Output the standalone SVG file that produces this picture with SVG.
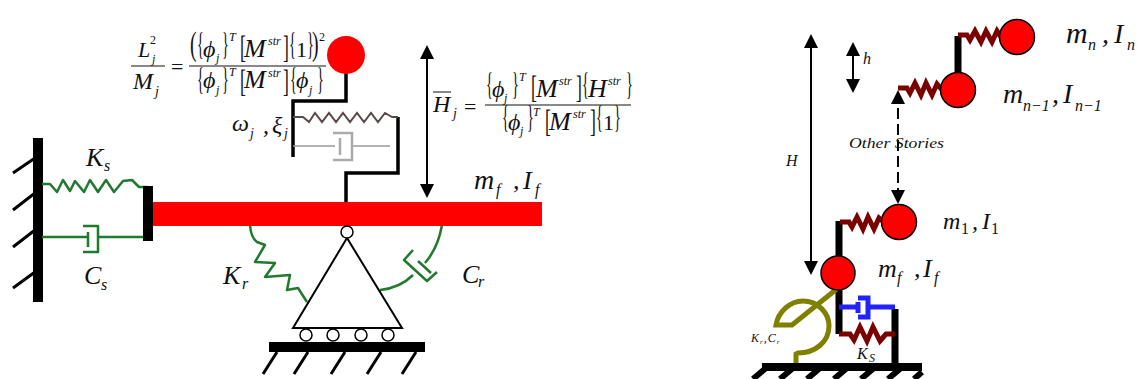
<svg xmlns="http://www.w3.org/2000/svg" width="1137" height="379" viewBox="0 0 1137 379">
<style>
text{font-family:"Liberation Serif","Times New Roman",serif;font-style:italic;fill:#111}
.n{font-style:normal}
.f22{font-size:22px}.f24{font-size:24px}.f26{font-size:26px}.f28{font-size:28px}.f12{font-size:12px}.f14{font-size:14px}.f16{font-size:16px}
.b{font-size:22px;font-style:normal;font-weight:normal}
.k{fill:none;stroke:#000;stroke-linejoin:miter}
.g{fill:none;stroke:#1f7a2e;stroke-width:2.5;stroke-linejoin:round}
.br{fill:none;stroke:#7b0000;stroke-width:5;stroke-linejoin:miter}
.ball{fill:#f00;stroke:#000;stroke-width:1.5}
.o{fill:#fff;stroke:#000;stroke-width:1.5}
</style>
<defs>
<marker id="ah" viewBox="0 0 14 14" refX="12" refY="7" markerWidth="14" markerHeight="14" markerUnits="userSpaceOnUse" orient="auto-start-reverse"><path d="M0 0L14 7L0 14Z" fill="#000"/></marker>
</defs>
<rect width="1137" height="379" fill="#fff"/>

<g id="connectors">
<path class="k" stroke-width="10" d="M38 138V302"/>
<path class="k" stroke-width="3" d="M13 173L35 158M13 210L35 193M13 247L35 230M13 288L35 272"/>
<path class="g" d="M42 184H50L57 192L63 180L70 191L75 181L84 192L90 180L98 192L106 180L114 192L123 181L132 180L139 187H147"/>
<path class="g" d="M42 237H88M98 237H147M83 226H98V252H83M88 232V247"/>
<path class="k" stroke-width="3.5" d="M346 72V101H293V157"/>
<path class="k" stroke-width="3.5" d="M398 117V173H346V202"/>
<path d="M293 117H303L309 122L315 113L322 122L329 113L336 122L343 113L350 122L357 113L364 122L371 113L378 122L385 113L392 117H398" fill="none" stroke="#5a4a4a" stroke-width="2"/>
<path d="M293 146H335M352 146H390" fill="none" stroke="#999" stroke-width="1.5"/>
<path d="M333 133H352V160H333M340 138V155" fill="none" stroke="#aaa" stroke-width="2.5"/>
<path class="g" stroke-width="3" d="M250 225Q251 238 257 242L265 245L255 262L275 263L265 277L290 275L287 290L298 288L307 302"/>
<path class="g" d="M442 225Q438 248 425 263M413 275Q400 288 380 290"/>
<path class="g" stroke-width="3" d="M413 250L404 260L427 281L437 272M418 261L431 273"/>
<path class="k" stroke-width="2" d="M347 238L293 328H402Z" fill="none"/>
<path class="k" stroke-width="3" d="M263 374L277 352M294 374L308 352M331 374L345 352M367 374L381 352M402 374L416 352"/>
<path class="k" stroke-width="2" d="M427 47V196" marker-start="url(#ah)" marker-end="url(#ah)"/>
<path class="k" stroke-width="2" d="M811 36V273" marker-start="url(#ah)" marker-end="url(#ah)"/>
<path class="k" stroke-width="2" d="M853 44V91" marker-start="url(#ah)" marker-end="url(#ah)"/>
<path class="k" stroke-width="2" stroke-dasharray="11 5" d="M898 92V202" marker-start="url(#ah)" marker-end="url(#ah)"/>
<path class="k" stroke-width="7" d="M958 36V74M839 221V260M839 290V334M895 309V364"/>
<path class="br" d="M958 35H967L970 40L975 31L981 42L986 31L992 42L997 31L1001 37"/>
<path class="br" d="M898 88H907L910 93L915 83L921 95L926 83L932 95L937 84L942 90"/>
<path class="br" d="M840 222H849L852 227L857 217L863 229L868 217L874 229L879 218L884 222"/>
<path class="br" d="M839 334H850L854 340L860 327L867 341L873 327L880 341L886 334H895"/>
<path fill="none" stroke="#2222ff" stroke-width="5" d="M839 307H858M868 307H895M858 302V313M858 298H868V317H858"/>
<path fill="none" stroke="#808000" stroke-width="5" d="M838 288L792 325H776C778 312 790 301 803 301C818 301 829 313 829 326C829 342 815 353 798 353L796 354V363"/>
<path class="k" stroke-width="8" d="M762 367H922"/>
<path class="k" stroke-width="6" d="M753 379L766 368M780 379L793 368M807 379L820 368M834 379L847 368M861 379L874 368M888 379L901 368M914 379L922 372"/>
</g>

<g id="beam"><rect x="152" y="202" width="390" height="24" fill="#f00"/><rect x="143" y="186" width="10" height="55" fill="#000"/></g>
<g id="top-mass"><circle cx="346" cy="55" r="19" fill="#f00"/></g>
<g id="pivot"><circle class="o" cx="347" cy="232" r="6"/></g>
<g id="base">
<circle class="o" cx="306" cy="335" r="6"/><circle class="o" cx="333" cy="335" r="6"/><circle class="o" cx="361" cy="335" r="6"/><circle class="o" cx="388" cy="335" r="6"/>
<rect x="269" y="342" width="156" height="10" fill="#000"/>
</g>
<g id="mass-n"><circle class="ball" cx="1017" cy="37" r="17.5"/></g>
<g id="mass-n1"><circle class="ball" cx="958" cy="90" r="17.5"/></g>
<g id="mass-1"><circle class="ball" cx="899" cy="222" r="17.5"/></g>
<g id="mass-f"><circle class="ball" cx="838" cy="273" r="17"/></g>

<g id="labels-left">
<text class="f26" x="86" y="166">K</text><text class="f16" x="104" y="171">s</text>
<text class="f26" x="84" y="284">C</text><text class="f16" x="101" y="290">s</text>
<text class="f26" x="223" y="284">K</text><text class="f16" x="242" y="289">r</text>
<text class="f26" x="462" y="283">C</text><text class="f16" x="478" y="287">r</text>
<text class="f28" x="474" y="189">m</text><text class="f16" x="496" y="195">f</text><text class="f26" x="513" y="189">,</text><text class="f26" x="523" y="189">I</text><text class="f16" x="535" y="195">f</text>
<text class="f24" x="232" y="131">ω</text><text class="f14" x="250" y="138">j</text><text class="f24" x="263" y="133">,</text><text class="f24" x="272" y="133">ξ</text><text class="f14" x="284" y="138">j</text>
<text class="f22" x="138" y="57">L</text><text class="f12 n" x="150" y="44">2</text><text class="f12" x="152" y="63">j</text>
<text class="f24" x="133" y="89">M</text><text class="f14" x="155" y="96">j</text>
<path d="M131 66H165M189 66H326M485 105H631M433 92H451" stroke="#111" stroke-width="1" fill="none"/>
<text class="f22 n" x="171" y="74">=</text>
<text class="b" transform="translate(190 55) scale(.9 1.5)">(</text><text class="b" transform="translate(197 55) scale(.65 1.4)">{</text><text class="f24" x="203" y="57">ϕ</text><text class="f12" x="216" y="62">j</text><text class="b" transform="translate(222 55) scale(.65 1.4)">}</text><text class="f12" x="229" y="41">T</text>
<text class="b" transform="translate(240 58) scale(.8 1.4)">[</text><text class="f26" x="244" y="57">M</text><text class="f12" x="268" y="45">str</text><text class="b" transform="translate(283 58) scale(.8 1.4)">]</text>
<text class="b" transform="translate(289 55) scale(.65 1.4)">{</text><text class="f22 n" x="296" y="57">1</text><text class="b" transform="translate(307 55) scale(.65 1.4)">}</text><text class="b" transform="translate(312 55) scale(.9 1.5)">)</text><text class="f12 n" x="319" y="41">2</text>
<text class="b" transform="translate(197 90) scale(.65 1.4)">{</text><text class="f24" x="203" y="88">ϕ</text><text class="f12" x="216" y="94">j</text><text class="b" transform="translate(222 90) scale(.65 1.4)">}</text><text class="f12" x="229" y="76">T</text>
<text class="b" transform="translate(240 92) scale(.8 1.4)">[</text><text class="f26" x="244" y="88">M</text><text class="f12" x="268" y="77">str</text><text class="b" transform="translate(283 92) scale(.8 1.4)">]</text>
<text class="b" transform="translate(290 90) scale(.65 1.4)">{</text><text class="f24" x="296" y="88">ϕ</text><text class="f12" x="309" y="94">j</text><text class="b" transform="translate(317 90) scale(.65 1.4)">}</text>
<text class="f24" x="433" y="112">H</text><text class="f14" x="453" y="118">j</text><text class="f22 n" x="464" y="114">=</text>
<text class="b" transform="translate(486 95) scale(.65 1.4)">{</text><text class="f24" x="492" y="97">ϕ</text><text class="f12" x="504" y="102">j</text><text class="b" transform="translate(512 95) scale(.65 1.4)">}</text><text class="f12" x="519" y="81">T</text>
<text class="b" transform="translate(531 98) scale(.8 1.4)">[</text><text class="f26" x="536" y="97">M</text><text class="f12" x="559" y="85">str</text><text class="b" transform="translate(576 98) scale(.8 1.4)">]</text>
<text class="b" transform="translate(582 95) scale(.65 1.4)">{</text><text class="f26" x="588" y="97">H</text><text class="f12" x="608" y="85">str</text><text class="b" transform="translate(626 95) scale(.65 1.4)">}</text>
<text class="b" transform="translate(502 128) scale(.65 1.4)">{</text><text class="f24" x="508" y="130">ϕ</text><text class="f12" x="520" y="135">j</text><text class="b" transform="translate(527 128) scale(.65 1.4)">}</text><text class="f12" x="533" y="116">T</text>
<text class="b" transform="translate(545 132) scale(.8 1.4)">[</text><text class="f26" x="549" y="130">M</text><text class="f12" x="573" y="118">str</text><text class="b" transform="translate(590 132) scale(.8 1.4)">]</text>
<text class="b" transform="translate(596 128) scale(.65 1.4)">{</text><text class="f22 n" x="603" y="130">1</text><text class="b" transform="translate(614 128) scale(.65 1.4)">}</text>
</g>

<g id="labels-right">
<text class="f28" x="1066" y="43" style="font-size:30px">m</text><text class="f16" x="1088" y="50">n</text><text class="f28" x="1102" y="43">,</text><text class="f28" x="1114" y="43">I</text><text class="f16" x="1127" y="50">n</text>
<text class="f28" x="1003" y="103">m</text><text class="f16" x="1023" y="111">n−1</text><text class="f28" x="1052" y="103">,</text><text class="f28" x="1063" y="103">I</text><text class="f16" x="1075" y="111">n−1</text>
<text class="f24" x="943" y="229">m</text><text class="f16 n" x="961" y="234">1</text><text class="f24" x="972" y="229">,</text><text class="f24" x="982" y="229">I</text><text class="f16 n" x="991" y="234">1</text>
<text class="f26" x="878" y="277">m</text><text class="f16" x="897" y="283">f</text><text class="f26" x="914" y="277">,</text><text class="f26" x="923" y="277">I</text><text class="f16" x="934" y="283">f</text>
<text x="849" y="148" font-size="15" textLength="95" lengthAdjust="spacingAndGlyphs">Other Stories</text>
<text class="f16" x="786" y="166">H</text>
<text class="f16" x="863" y="64">h</text>
<text x="751" y="342" font-size="12" letter-spacing="1">K<tspan font-size="7" dy="2">r</tspan><tspan dy="-2">,C</tspan><tspan font-size="7" dy="2">r</tspan></text>
<text class="f16" x="857" y="359">K</text><text class="f12" x="869" y="362">S</text>
</g>
</svg>
